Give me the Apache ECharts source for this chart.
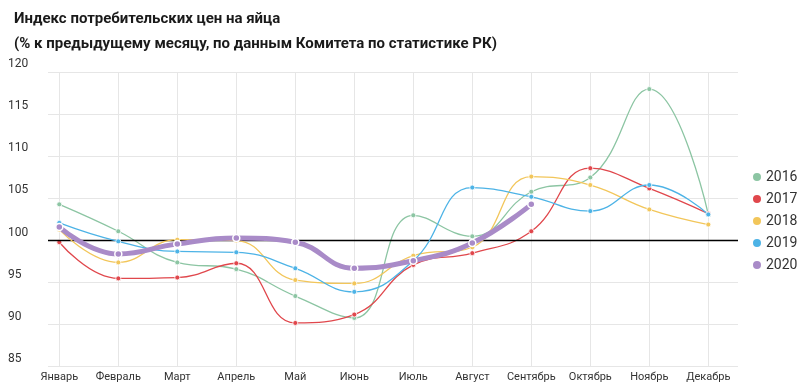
<!DOCTYPE html>
<html>
<head>
<meta charset="utf-8">
<script src="https://cdn.jsdelivr.net/npm/echarts@6/dist/echarts.min.js"></script>
<style>
html,body{margin:0;padding:0;background:#fff;}
#c{width:800px;height:390px;}
</style>
</head>
<body>
<div id="c"></div>
<script>
var months = ['Январь','Февраль','Март','Апрель','Май','Июнь','Июль','Август','Сентябрь','Октябрь','Ноябрь','Декабрь'];
var yTicks = [85, 90, 95, 100, 105, 110, 115, 120];
var years = ['2016','2017','2018','2019','2020'];
var colors = ['#8cc5a3','#e0474c','#f2c65a','#4db3e6','#a98bc8'];
var s2016 = [104.3, 101.1, 97.4, 96.6, 93.4, 90.8, 103.0, 100.5, 105.8, 107.5, 118.0, 103.1];
var s2017 = [99.8, 95.5, 95.6, 97.3, 90.2, 91.2, 97.1, 98.5, 101.1, 108.6, 106.2, 103.2];
var s2018 = [101.3, 97.4, 100.1, 100.0, 95.3, 94.9, 98.2, 99.2, 107.6, 106.6, 103.7, 101.9];
var s2019 = [102.1, 99.9, 98.7, 98.6, 96.7, 93.9, 97.6, 106.3, 105.2, 103.5, 106.6, 103.1];
var s2020 = [101.6, 98.4, 99.6, 100.3, 99.8, 96.7, 97.6, 99.7, 104.3];
var refValue = 100;

var seriesData = [s2016, s2017, s2018, s2019, s2020];
var chart = echarts.init(document.getElementById('c'));
var series = seriesData.map(function (d, i) {
  var last = i === 4;
  return {
    name: years[i],
    type: 'line',
    xAxisIndex: 1,
    yAxisIndex: 1,
    data: d,
    smooth: 0.45,
    symbol: 'circle',
    symbolSize: last ? 7 : 5,
    z: last ? 10 : 3 + i,
    lineStyle: {width: last ? 5 : 1.3, color: colors[i]},
    itemStyle: {color: colors[i], borderColor: '#fff', borderWidth: last ? 1.5 : 0.8},
    emphasis: {disabled: true}
  };
});
series.push({
  type: 'line',
  xAxisIndex: 0,
  yAxisIndex: 0,
  data: [],
  silent: true,
  markLine: {
    symbol: 'none',
    silent: true,
    label: {show: false},
    lineStyle: {color: '#000', width: 1.3, type: 'solid'},
    data: [{yAxis: refValue}]
  }
});

chart.setOption({
  animation: false,
  color: colors,
  title: {
    text: 'Индекс потребительских цен на яйца\n(% к предыдущему месяцу, по данным Комитета по статистике РК)',
    left: 9,
    top: 2,
    textStyle: {fontFamily: 'Roboto', fontSize: 15, fontWeight: 'bold', color: '#1a1a1a', lineHeight: 25}
  },
  legend: {
    orient: 'vertical',
    left: 746,
    top: 165,
    itemGap: 8,
    itemWidth: 10,
    itemHeight: 10,
    icon: 'circle',
    data: years,
    textStyle: {fontFamily: 'Roboto', fontSize: 14, color: '#333', padding: [0,0,0,-1]}
  },
  grid: [
    {left: 48, right: 62, top: 72.3, bottom: 23.3},
    {left: 59.3, right: 91.7, top: 72.3, bottom: 23.3}
  ],
  xAxis: [
    {type: 'value', gridIndex: 0, min: 0, max: 1, show: false},
    {
      type: 'category', gridIndex: 1, data: months, boundaryGap: false,
      axisLine: {show: false},
      axisTick: {show: false},
      axisLabel: {fontFamily: 'Roboto', fontSize: 11, color: '#333', margin: 5, interval: 0},
      splitLine: {show: true, lineStyle: {color: '#e6e6e6', width: 1}}
    }
  ],
  yAxis: [
    {
      type: 'value', gridIndex: 0, min: yTicks[0], max: yTicks[yTicks.length-1], interval: 5,
      axisLine: {show: false}, axisTick: {show: false},
      axisLabel: {fontFamily: 'Roboto', fontSize: 12, color: '#333', align: 'left', verticalAlign: 'bottom', margin: 40, padding: [0,0,2,0]},
      splitLine: {show: true, lineStyle: {color: '#e6e6e6', width: 1}}
    },
    {
      type: 'value', gridIndex: 1, min: yTicks[0], max: yTicks[yTicks.length-1], interval: 5,
      show: false, splitLine: {show: false}
    }
  ],
  series: series
});
</script>
</body>
</html>
